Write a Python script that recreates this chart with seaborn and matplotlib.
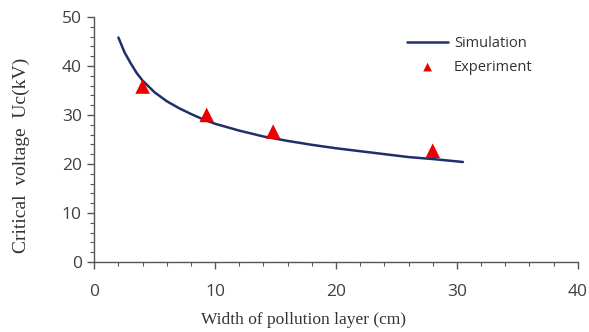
import numpy as np
import pandas as pd
import seaborn as sns
import matplotlib.pyplot as plt
from matplotlib.ticker import MultipleLocator

# Simulation curve
sim_x = [2, 2.5, 3, 3.5, 4, 5, 6, 7, 8, 9, 10, 12, 14, 16, 18, 20,
         22, 24, 26, 28, 30.5]
sim_y = [45.8, 42.8, 40.6, 38.6, 37.0, 34.6, 32.8, 31.4, 30.2, 29.1, 28.2,
         26.8, 25.6, 24.7, 23.9, 23.2, 22.6, 22.0, 21.4, 21.0, 20.4]

# Experiment points
exp_x = [4.0, 9.3, 14.8, 28.0]
exp_y = [35.8, 30.0, 26.6, 22.7]

sns.set_style("white")
plt.rcParams['font.family'] = ['Open Sans', 'DejaVu Sans']

fig = plt.figure(figsize=(5.89, 3.32), dpi=100)
ax = fig.add_axes([0.16, 0.211, 0.821, 0.738])

sim = pd.DataFrame({'x': sim_x, 'y': sim_y})
exp = pd.DataFrame({'x': exp_x, 'y': exp_y})

sns.lineplot(data=sim, x='x', y='y', ax=ax, color='#1f2f6b', linewidth=1.8,
             label='Simulation')
sns.scatterplot(data=exp, x='x', y='y', ax=ax, marker='^', color='#ee0000',
                s=110, edgecolor='none', label='Experiment', zorder=3)

ax.set_xlim(0, 40)
ax.set_ylim(0, 50)
ax.xaxis.set_major_locator(MultipleLocator(10))
ax.xaxis.set_minor_locator(MultipleLocator(2))
ax.yaxis.set_major_locator(MultipleLocator(10))
ax.yaxis.set_minor_locator(MultipleLocator(2))

for s in ['top', 'right']:
    ax.spines[s].set_visible(False)
for s in ['left', 'bottom']:
    ax.spines[s].set_color('#555555')
    ax.spines[s].set_linewidth(1.0)

ax.tick_params(which='major', direction='out', length=5, width=1,
               color='#555555', labelsize=12.5, labelcolor='#404040',
               bottom=True, left=True, pad=4)
ax.tick_params(which='minor', direction='out', length=3, width=0.8,
               color='#555555', bottom=True, left=True)
ax.tick_params(axis='x', pad=11)

ax.set_xlabel('Width of pollution layer (cm)', family='Liberation Serif',
              fontsize=12.5, color='#333333')
ax.set_ylabel('Critical  voltage  Uc(kV)', family='Liberation Serif',
              fontsize=14, color='#333333')
ax.xaxis.set_label_coords(0.432, -0.204)
ax.yaxis.set_label_coords(-0.132, 0.437)

leg = ax.legend(loc='upper left', bbox_to_anchor=(0.62, 0.975), frameon=False,
                fontsize=10.5, handlelength=2.8, handletextpad=0.4,
                labelspacing=0.6, markerscale=0.6)
for t in leg.get_texts():
    t.set_color('#333333')

fig.savefig('out.png', dpi=100)
